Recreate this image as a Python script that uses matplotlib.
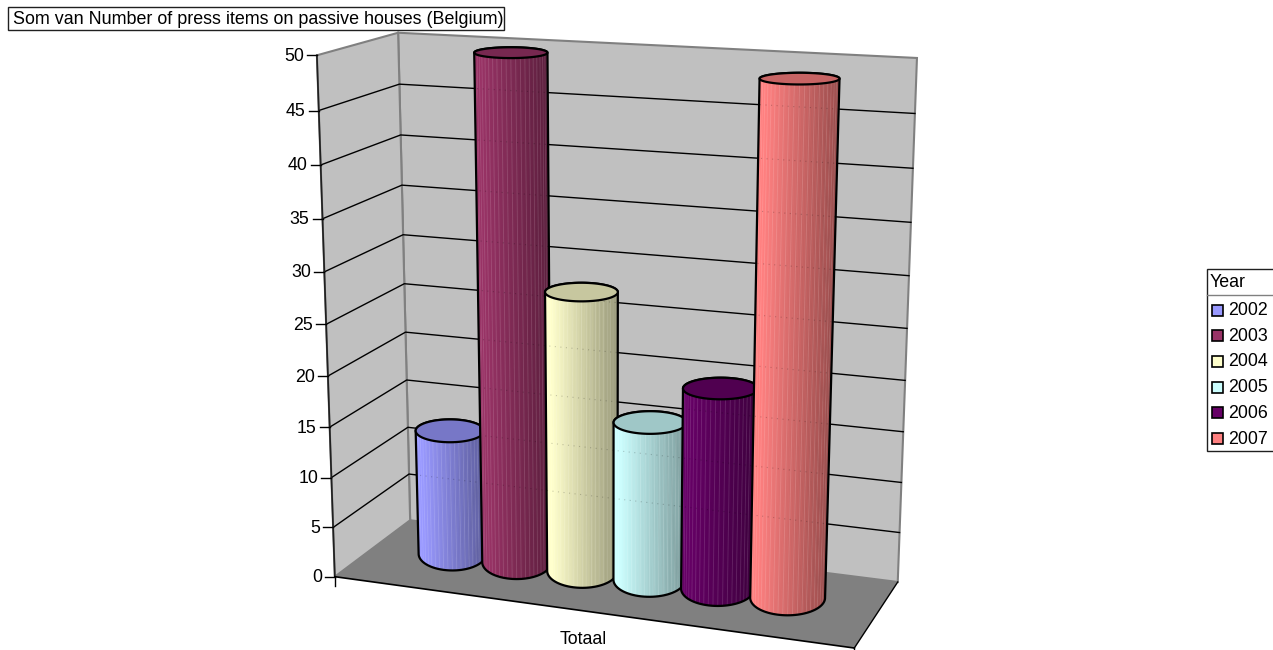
import numpy as np
import matplotlib
matplotlib.use("Agg")
import matplotlib.pyplot as plt
from matplotlib.patches import Polygon, Rectangle

plt.rcParams["font.family"] = ["Liberation Sans", "DejaVu Sans"]

# chart data
years = ["2002", "2003", "2004", "2005", "2006", "2007"]
press_items = [13, 50, 28, 16, 20, 49]
colors = ["#9999FF", "#993366", "#FFFFCC", "#CCFFFF", "#660066", "#FF8080"]
y_ticks = [0, 5, 10, 15, 20, 25, 30, 35, 40, 45, 50]
title = "Som van Number of press items on passive houses (Belgium)"
category = "Totaal"
legend_title = "Year"

# box corners (x, depth, value) -> pixel, used to fit the 3d projection
corners_3d = [(0, 0, 0), (0, 0, 50), (0, 1, 0), (0, 1, 50), (1, 1, 0), (1, 1, 50), (1, 0, 0)]
corners_px = [(335, 577), (317, 55), (410, 520), (398, 33), (898, 582), (917, 58), (854, 648)]

A = []
b = []
for (x, d, v), (px, py) in zip(corners_3d, corners_px):
    A.append([x, d, v, 1, 0, 0, 0, 0, -px * x, -px * d, -px * v])
    A.append([0, 0, 0, 0, x, d, v, 1, -py * x, -py * d, -py * v])
    b += [px, py]
h = np.linalg.lstsq(np.array(A, float), np.array(b, float), rcond=None)[0]


def project(x, d, v):
    w = h[8] * x + h[9] * d + h[10] * v + 1
    return (h[0] * x + h[1] * d + h[2] * v + h[3]) / w, (h[4] * x + h[5] * d + h[6] * v + h[7]) / w


def hull(points):
    pts = sorted(set(map(tuple, points)))
    def half(seq):
        out = []
        for p in seq:
            while len(out) > 1 and (out[-1][0] - out[-2][0]) * (p[1] - out[-2][1]) - (out[-1][1] - out[-2][1]) * (p[0] - out[-2][0]) <= 0:
                out.pop()
            out.append(p)
        return out[:-1]
    return half(pts) + half(pts[::-1])


def shade(color, f):
    c = np.array(matplotlib.colors.to_rgb(color))
    return tuple(np.clip(c * f, 0, 1))


def ellipse(xc, dc, v, rx, rd, theta, squash=1.0, drop=0.0):
    # Excel draws the cylinder ends as level ellipses on screen
    cx, cy = project(xc, dc, v)
    x0, y0 = project(xc - rx, dc, v)
    x1, y1 = project(xc + rx, dc, v)
    a = (x1 - x0) / 2
    slope = (y1 - y0) / (x1 - x0)
    fx, fy = project(xc, dc - rd, v)
    bx, by = project(xc, dc + rd, v)
    semi = abs((fy - by) - slope * (fx - bx)) / 2 * squash
    return cx + a * np.cos(theta), cy + drop + semi * np.sin(theta)


fig = plt.figure(figsize=(12.73, 6.5), dpi=100)
ax = fig.add_axes([0, 0, 1, 1])
ax.set_xlim(0, 1273)
ax.set_ylim(650, 0)
ax.axis("off")

top = y_ticks[-1]
# walls and floor
ax.add_patch(Polygon([project(0, 1, 0), project(0, 1, top), project(1, 1, top), project(1, 1, 0)], fc="#C0C0C0", ec="#808080", lw=1.5, zorder=1))
ax.add_patch(Polygon([project(0, 0, 0), project(0, 0, top), project(0, 1, top), project(0, 1, 0)], fc="#C0C0C0", ec="#808080", lw=1.5, zorder=1))
ax.add_patch(Polygon([project(0, 0, 0), project(0, 1, 0), project(1, 1, 0), project(1, 0, 0)], fc="#808080", ec="none", zorder=1))

# gridlines
for v in y_ticks[1:-1]:
    a, b_, c = project(0, 0, v), project(0, 1, v), project(1, 1, v)
    ax.plot([a[0], b_[0], c[0]], [a[1], b_[1], c[1]], color="black", lw=1, zorder=2)

# axis lines and ticks
a, b_ = project(0, 0, 0), project(0, 0, top)
ax.plot([a[0], b_[0]], [a[1], b_[1]], color="#202020", lw=1.2, zorder=2)
a, b_ = project(0, 0, 0), project(1, 0, 0)
ax.plot([a[0], b_[0]], [a[1], b_[1]], color="black", lw=1.2, zorder=2)
a, b_ = project(1, 0, 0), project(1, 1, 0)
ax.plot([a[0], b_[0]], [a[1], b_[1]], color="black", lw=1, zorder=2)
for p in (project(0, 0, 0), project(1, 0, 0)):
    ax.plot([p[0], p[0]], [p[1], p[1] + 9], color="black", lw=1, zorder=2)
for v in y_ticks:
    p = project(0, 0, v)
    ax.plot([p[0] - 10, p[0]], [p[1], p[1]], color="black", lw=1, zorder=2)
    ax.text(p[0] - 13, p[1] + 1, str(v), ha="right", va="center", fontsize=12.8, color="black")

# cylinders, drawn left to right so the later ones overlap
gap = 1.46
n = len(years)
step = 1 / (n + gap)
rx = step * 0.53
rd = 0.25
dc = 0.56
theta = np.linspace(0, 2 * np.pi, 145)
for i, (value, col) in enumerate(zip(press_items, colors)):
    z = 5 + i * 2
    xc = (i + 0.5 + gap / 2) * step - 0.007
    bx, by = ellipse(xc, dc, 0, rx, rd, theta)
    tx, ty = ellipse(xc, dc, value, rx, rd, theta, squash=0.8, drop=3)
    outline = hull(list(zip(np.round(bx, 3), np.round(by, 3))) + list(zip(np.round(tx, 3), np.round(ty, 3))))
    body = Polygon(outline, fc=col, ec="none", zorder=z)
    ax.add_patch(body)
    for k in range(len(theta) - 1):
        mid = (theta[k] + theta[k + 1]) / 2
        if np.sin(mid) < -0.05:
            continue
        t = (1 + np.cos(mid)) / 2  # 0 at the left edge, 1 at the right edge
        f = 1.0 - 0.45 * max(t - 0.08, 0)
        q = Polygon([(bx[k], by[k]), (bx[k + 1], by[k + 1]), (tx[k + 1], ty[k + 1]), (tx[k], ty[k])],
                    fc=shade(col, f), ec=shade(col, f), lw=0.3, zorder=z)
        ax.add_patch(q)
        q.set_clip_path(body)
        # the light vertical streaks on the surface
        if k % 3 == 0:
            s, = ax.plot([bx[k], tx[k]], [by[k], ty[k]], color="white", alpha=0.13, lw=0.7, zorder=z)
            s.set_clip_path(body)
    # gridlines faintly visible through the cylinder
    for v in y_ticks[1:-1]:
        if v < value:
            a, c = project(0, 1, v), project(1, 1, v)
            g, = ax.plot([a[0], c[0]], [a[1], c[1]], color="black", alpha=0.2, lw=0.8, ls=(0, (1, 4)), zorder=z)
            g.set_clip_path(body)
    ax.add_patch(Polygon(outline, fc="none", ec="black", lw=1.6, zorder=z))
    ax.add_patch(Polygon(list(zip(tx, ty)), fc=shade(col, 0.78), ec="black", lw=1.6, zorder=z))

# category label
ax.text(583, 639, category, ha="center", va="center", fontsize=12.8, color="black")

# title box
ax.text(13, 20, title, ha="left", va="center", fontsize=12.85, color="black")
ax.add_patch(Rectangle((8, 7), 496, 23, fc="none", ec="#202020", lw=1))

# legend box, runs off the right edge like the original
ax.add_patch(Rectangle((1206.5, 268.5), 80, 182, fc="white", ec="#202020", lw=1, zorder=20))
ax.plot([1206.5, 1273], [295, 295], color="#808080", lw=1, zorder=21)
ax.text(1210, 282.5, legend_title, ha="left", va="center", fontsize=12.8, color="black", zorder=21)
for i, (year, col) in enumerate(zip(years, colors)):
    y = 310 + i * 25.7
    ax.add_patch(Rectangle((1212, y - 5.5), 11, 11, fc=col, ec="black", lw=1.2, zorder=21))
    ax.text(1228, y + 0.5, year, ha="left", va="center", fontsize=12.8, color="black", zorder=21)

fig.savefig("out.png", dpi=100)
